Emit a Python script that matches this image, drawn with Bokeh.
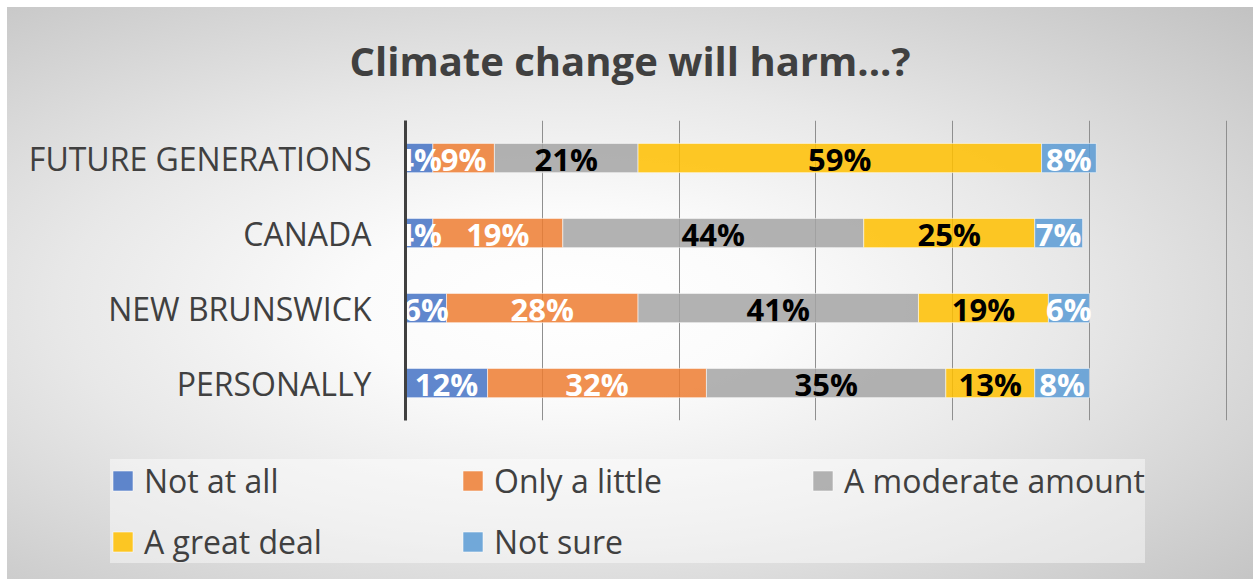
from bokeh.plotting import figure
from bokeh.layouts import column
from bokeh.models import ColumnDataSource, Legend, LegendItem, Range1d
from bokeh.core.properties import value
from bokeh.embed import file_html
from bokeh.resources import INLINE

# Survey results, percent of respondents per category
categories = ["FUTURE GENERATIONS", "CANADA", "NEW BRUNSWICK", "PERSONALLY"]
series_names = ["Not at all", "Only a little", "A moderate amount", "A great deal", "Not sure"]
not_at_all = [4, 4, 6, 12]
only_a_little = [9, 19, 28, 32]
moderate_amount = [21, 44, 41, 35]
great_deal = [59, 25, 19, 13]
not_sure = [8, 7, 6, 8]
x_ticks = [0, 20, 40, 60, 80, 100, 120]

series_values = [not_at_all, only_a_little, moderate_amount, great_deal, not_sure]
series_keys = ["s0", "s1", "s2", "s3", "s4"]
bar_colors = ["#4472C4", "#ED7D31", "#A5A5A5", "#FFC000", "#5B9BD5"]
label_colors = ["#ffffff", "#ffffff", "#000000", "#000000", "#ffffff"]

FONT = "Open Sans"
TEXT_GREY = "#404040"
BAR_STYLE = dict(fill_alpha=0.85, line_color="#ffffff", line_alpha=0.55, line_width=1)

data = {"cat": categories}
for key, vals in zip(series_keys, series_values):
    data[key] = vals
source = ColumnDataSource(data)

# ---- main bar chart -------------------------------------------------------
p = figure(
    width=1253, height=440,
    y_range=list(reversed(categories)),
    x_range=Range1d(0, 121.5),
    output_backend="svg", toolbar_location=None,
    min_border_left=405, min_border_right=17,
    min_border_top=120, min_border_bottom=20,
)
p.frame_align = False
p.background_fill_alpha = 0
p.border_fill_alpha = 0
p.outline_line_color = None

bars = p.hbar_stack(series_keys, y="cat", height=0.39, color=bar_colors,
                    source=source, **BAR_STYLE)

# value labels centred inside each segment
left = [0] * len(categories)
for vals, col in zip(series_values, label_colors):
    centers = [l + v / 2 for l, v in zip(left, vals)]
    texts = [f"{v}%" for v in vals]
    p.text(
        x=centers, y=categories, text=texts,
        text_align="center", text_baseline="middle",
        text_font=value(FONT), text_font_style="bold",
        text_font_size="31px", text_color=col, y_offset=1,
    )
    left = [l + v for l, v in zip(left, vals)]

p.xaxis.visible = False
p.xaxis.ticker = x_ticks
p.xgrid.grid_line_color = "#8f8f8f"
p.xgrid.grid_line_width = 1
p.ygrid.grid_line_color = None

yax = p.yaxis[0]
yax.axis_line_color = TEXT_GREY
yax.axis_line_width = 3
yax.major_tick_line_color = None
yax.minor_tick_line_color = None
yax.major_label_text_font = FONT
yax.major_label_text_font_size = "32px"
yax.major_label_text_color = TEXT_GREY
yax.major_label_standoff = 28

p.title.text = "Climate change will harm...?"
p.title.align = "left"
p.title.offset = -56
p.title.vertical_align = "top"
p.title.text_font = FONT
p.title.text_font_style = "bold"
p.title.text_font_size = "40px"
p.title.text_color = TEXT_GREY
p.title.standoff = 61

# ---- legend strip ---------------------------------------------------------
leg = figure(
    width=1253, height=139,
    x_range=Range1d(1, 2), y_range=Range1d(1, 2),
    output_backend="svg", toolbar_location=None,
    min_border=0,
)
leg.frame_align = False
leg.background_fill_alpha = 0
leg.border_fill_alpha = 0
leg.outline_line_color = None
leg.axis.visible = False
leg.grid.visible = False

# swatch proxies, kept outside the visible range
swatches = [leg.hbar(y=[0], left=[0], right=[0], height=0.5, color=c, **BAR_STYLE)
            for c in bar_colors]

legend = Legend(
    items=[LegendItem(label=n, renderers=[r]) for n, r in zip(series_names, swatches)],
    location=(110, 16),
    orientation="horizontal",
    ncols=3,
    glyph_width=25, glyph_height=25,
    label_standoff=9,
    label_text_font=FONT, label_text_font_size="32px",
    label_text_color=TEXT_GREY,
    label_height=43, label_width=298,
    spacing=18, padding=8, margin=0,
    border_line_color=None,
    background_fill_color="#ffffff", background_fill_alpha=0.45,
)
leg.add_layout(legend, "center")

layout = column(
    p, leg,
    styles={
        "background": "radial-gradient(ellipse farthest-corner at 45% 52%, "
                      "#ffffff 0%, #fbfbfb 22%, #e8e8e8 52%, #c2c2c2 100%) "
                      "7px 7px / 1246px 572px no-repeat, #ffffff",
    },
)

open("out.html", "w").write(file_html(layout, INLINE))
